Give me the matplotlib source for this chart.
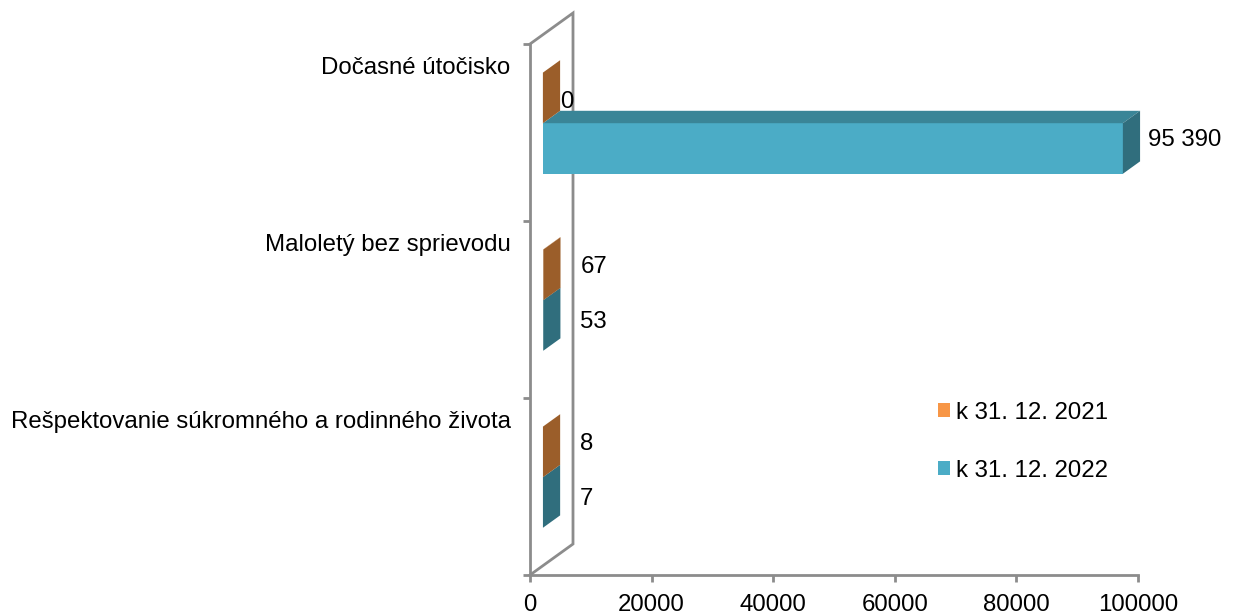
import matplotlib
matplotlib.use("Agg")
import matplotlib.pyplot as plt
from matplotlib.patches import Polygon, Patch
from matplotlib.transforms import offset_copy

plt.rcParams['font.family'] = ['Liberation Sans', 'DejaVu Sans']

# Dáta
kategorie = ['Rešpektovanie súkromného a rodinného života',
             'Maloletý bez sprievodu',
             'Dočasné útočisko']
hodnoty_2021 = [8, 67, 0]
hodnoty_2022 = [7, 53, 95390]
popisy_2021 = ['8', '67', '0']
popisy_2022 = ['7', '53', '95 390']
serie = ['k 31. 12. 2021', 'k 31. 12. 2022']
x_ticks = [0, 20000, 40000, 60000, 80000, 100000]

# farby: predná stena, horná stena, bočná stena
farby_2021 = ('#F79646', '#C2773A', '#9B5E2A')
farby_2022 = ('#4BACC6', '#3A8597', '#306E7D')
os_farba = '#8C8C8C'
FS = 17.3

W, H = 1234, 616
fig = plt.figure(figsize=(W / 100, H / 100), dpi=100)
ax = fig.add_axes([530 / W, (H - 575) / H, 608 / W, 531 / H])
ax.set_xlim(0, 100000)
ax.set_ylim(0, 3)

# hĺbka 3D (posun zadnej steny)
DX = 43 / 608 * 100000
DY = 31 / 177
d0, d1 = 0.3, 0.7
sirka = 1 / 3.5


def stlpec(y_dol, y_hor, v, farby):
    f_pred, f_hor, f_bok = farby
    ax.add_patch(Polygon([(d0 * DX, y_dol + d0 * DY), (v + d0 * DX, y_dol + d0 * DY),
                          (v + d0 * DX, y_hor + d0 * DY), (d0 * DX, y_hor + d0 * DY)],
                         closed=True, facecolor=f_pred, edgecolor='none', zorder=3, clip_on=False))
    ax.add_patch(Polygon([(d0 * DX, y_hor + d0 * DY), (v + d0 * DX, y_hor + d0 * DY),
                          (v + d1 * DX, y_hor + d1 * DY), (d1 * DX, y_hor + d1 * DY)],
                         closed=True, facecolor=f_hor, edgecolor='none', zorder=3, clip_on=False))
    ax.add_patch(Polygon([(v + d0 * DX, y_dol + d0 * DY), (v + d0 * DX, y_hor + d0 * DY),
                          (v + d1 * DX, y_hor + d1 * DY), (v + d1 * DX, y_dol + d1 * DY)],
                         closed=True, facecolor=f_bok, edgecolor='none', zorder=3, clip_on=False))


for i in range(len(kategorie)):
    c = i + 0.5
    # najprv spodný (2022), potom horný (2021)
    stlpec(c - sirka, c, hodnoty_2022[i], farby_2022)
    stlpec(c, c + sirka, hodnoty_2021[i], farby_2021)
    for v, txt, yc, dy in [(hodnoty_2022[i], popisy_2022[i], c - sirka / 2, -9),
                           (hodnoty_2021[i], popisy_2021[i], c + sirka / 2, -4)]:
        if v > 1000:
            pad, dy = 8, -4
        elif v == 0:
            pad, dy = 0, -16
        else:
            pad = 20
        tr = offset_copy(ax.transData, fig=fig, x=pad, y=dy, units='dots')
        ax.text(v + d1 * DX, yc + d1 * DY, txt, transform=tr, fontsize=FS,
                ha='left', va='center', zorder=4)

# bočná stena (os kategórií)
ax.plot([0, DX, DX, 0], [3, 3 + DY, DY, 0], color=os_farba, lw=2,
        clip_on=False, zorder=2, solid_joinstyle='miter')

for s in ['top', 'right']:
    ax.spines[s].set_visible(False)
for s in ['left', 'bottom']:
    ax.spines[s].set_color(os_farba)
    ax.spines[s].set_linewidth(2)

ax.set_xticks(x_ticks)
ax.set_xticklabels([str(t) for t in x_ticks])
ax.tick_params(axis='x', length=5, width=2, color=os_farba, labelsize=FS, pad=9)

ax.set_yticks([i + 0.88 for i in range(len(kategorie))])
ax.set_yticklabels(kategorie)
ax.tick_params(axis='y', which='major', length=0, labelsize=FS, pad=14)
ax.set_yticks([0, 1, 2, 3], minor=True)
ax.tick_params(axis='y', which='minor', length=5, width=2, color=os_farba)

ax.legend(handles=[Patch(facecolor=farby_2021[0]), Patch(facecolor=farby_2022[0])],
          labels=serie, frameon=False, fontsize=FS, loc='upper left',
          bbox_to_anchor=(916 / W, 1 - 380 / H), bbox_transform=fig.transFigure,
          handlelength=0.5, handleheight=0.5, handletextpad=0.25, labelspacing=1.5)

fig.savefig('out.png', dpi=100)
